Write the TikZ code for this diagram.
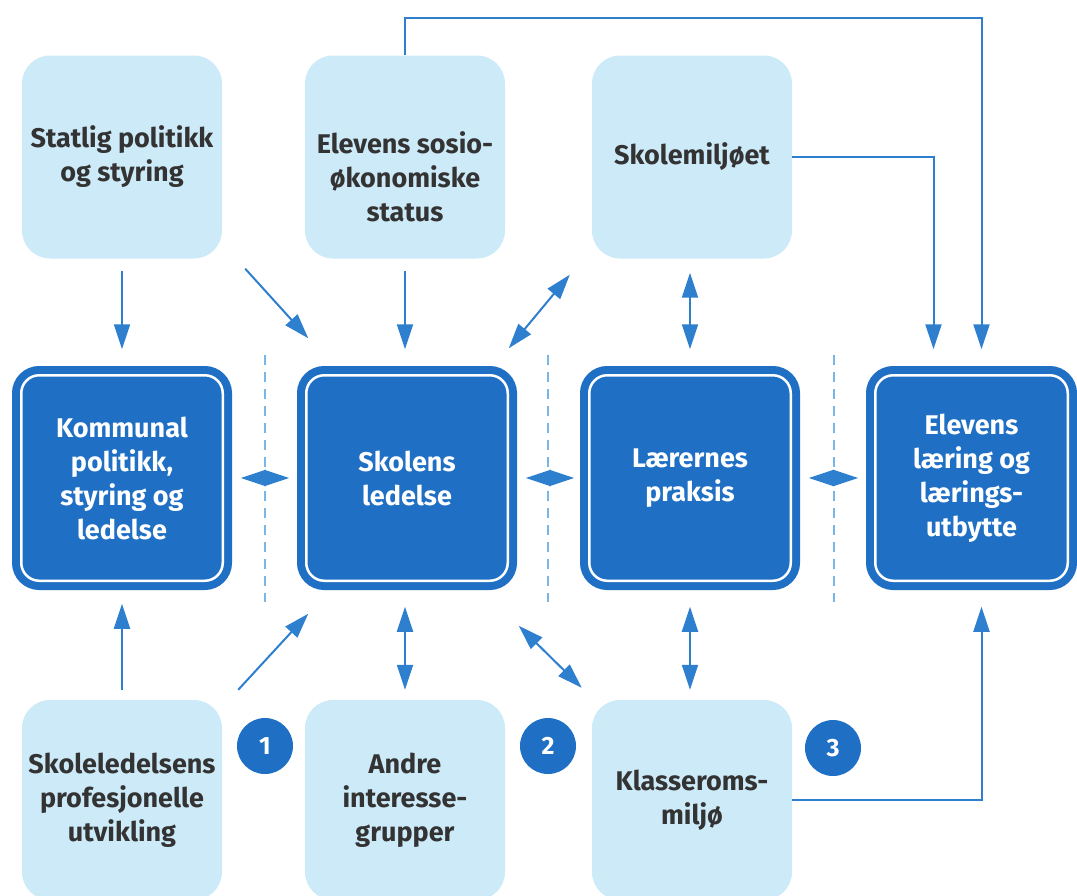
\documentclass[tikz,border=0pt]{standalone}
\usepackage{fontspec}
\setmainfont{Fira Sans}
\usetikzlibrary{arrows.meta}
\definecolor{darkblue}{HTML}{1F70C4}
\definecolor{lightblue}{HTML}{CDEAF8}
\definecolor{arrowblue}{HTML}{2F7FCF}
\definecolor{dashblue}{HTML}{7AB6E6}
\definecolor{textgray}{HTML}{333333}
\tikzstyle{boxtext}=[align=center, font=\fontsize{27}{34}\selectfont\bfseries]
\tikzstyle{lightbox}=[boxtext, fill=lightblue, text=textgray, rounded corners=28pt, minimum width=200pt, minimum height=203pt]
\tikzstyle{darkbox}=[boxtext, fill=darkblue, draw=darkblue, double=white, double distance=2.5pt, line width=8pt, rounded corners=18pt, text=white, minimum width=201.5pt, minimum height=205.5pt]
\tikzstyle{numdot}=[circle, fill=darkblue, text=white, inner sep=0pt, minimum size=56pt, font=\fontsize{25}{28}\selectfont\bfseries]
\tikzstyle{link}=[arrowblue, line width=2pt]
\tikzstyle{sep}=[dashblue, line width=2pt, dash pattern=on 10pt off 7pt]
\tikzset{>={Triangle[length=25pt,width=16pt]}}

\begin{document}
\begin{tikzpicture}[x=1pt, y=-1pt]
\useasboundingbox (0,0) rectangle (1077,895);

% top row
\node (statlig)   [lightbox] at (122,157) {Statlig politikk\\og styring};
\node (sosio)     [lightbox, label={[boxtext, text=textgray, yshift=-20pt]center:Elevens sosio-\\økonomiske\\status}] at (405,157) {};
\node (miljoet)   [lightbox] at (692,157) {Skolemiljøet};

% middle row
\node (kommunal)  [darkbox] at (122,478) {Kommunal\\politikk,\\styring og\\ledelse};
\node (skolens)   [darkbox] at (407,478) {Skolens\\ledelse};
\node (laerernes) [darkbox] at (690,478) {Lærernes\\praksis};
\node (elevens)   [darkbox, minimum width=192.5pt] at (971.5,478) {Elevens\\læring og\\lærings-\\utbytte};

% bottom row
\node (utvikling) [lightbox, minimum height=200pt] at (122,800) {Skoleledelsens\\profesjonelle\\utvikling};
\node (andre)     [lightbox, minimum height=200pt] at (405,800) {Andre\\interesse-\\grupper};
\node (klasserom) [lightbox, minimum height=200pt] at (692,800) {Klasseroms-\\miljø};

\node (n1) [numdot] at (265,746) {1};
\node (n2) [numdot] at (548,746) {2};
\node (n3) [numdot] at (833,748) {3};

\foreach \x in {265,548,834}
  \draw [sep] (\x,355) -- (\x,602);

\draw [->, link, shorten <=12pt, shorten >=22pt] (statlig.south) -- (kommunal.north);
\draw [->, link] ([shift={(23,10)}]statlig.south east) -- ([shift={(6,-33)}]skolens.north west);
\draw [->, link, shorten <=12pt, shorten >=22pt] (sosio.south) -- (sosio.south |- skolens.north);
\draw [<->, link] ([shift={(-3,-23)}]skolens.north east) -- ([shift={(-22,16)}]miljoet.south west);
\draw [<->, link, shorten <=14pt, shorten >=22pt] (laerernes.north |- miljoet.south) -- (laerernes.north);
\draw [->, link, shorten >=22pt] (miljoet.east) -| ([xshift=-38pt]elevens.north);
\draw [->, link, shorten >=22pt] (sosio.north) -- ++(0,-37) -| ([xshift=10pt]elevens.north);

\draw [<->, link, shorten <=14pt, shorten >=13pt] (kommunal.east)  -- (skolens.west);
\draw [<->, link, shorten <=14pt, shorten >=11pt] (skolens.east)   -- (laerernes.west);
\draw [<->, link, shorten <=14pt, shorten >=13pt] (laerernes.east) -- (elevens.west);

\draw [->, link, shorten <=10pt, shorten >=19pt] (utvikling.north) -- (kommunal.south);
\draw [->, link] ([shift={(16,-10)}]utvikling.north east) -- ([shift={(6,29)}]skolens.south west);
\draw [<->, link, shorten <=10pt, shorten >=22pt] (andre.north) -- (andre.north |- skolens.south);
\draw [<->, link] ([shift={(7,41)}]skolens.south east) -- ([shift={(-10,-12)}]klasserom.north west);
\draw [<->, link, shorten <=10pt, shorten >=22pt] (laerernes.south |- klasserom.north) -- (laerernes.south);
\draw [->, link, shorten >=22pt] (klasserom.east) -| ([xshift=10pt]elevens.south);

\end{tikzpicture}
\end{document}
